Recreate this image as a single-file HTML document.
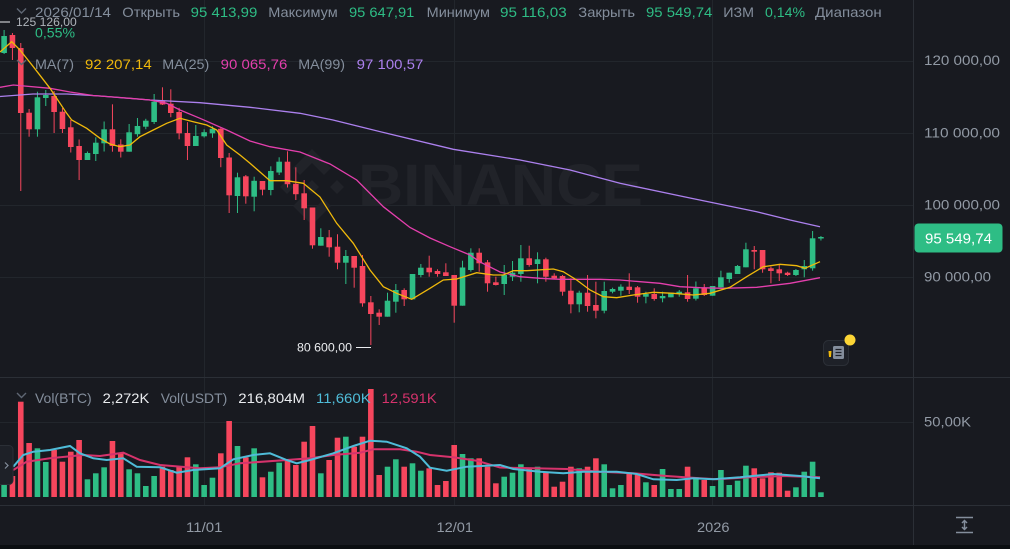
<!DOCTYPE html>
<html><head><meta charset="utf-8"><style>
html,body{margin:0;padding:0;background:#181a20;width:1010px;height:549px;overflow:hidden}
svg{display:block}
text{font-family:"Liberation Sans",sans-serif}
</style></head><body>
<svg id="s" width="1010" height="549" viewBox="0 0 1010 549" xmlns="http://www.w3.org/2000/svg">
<defs>
<clipPath id="cp"><rect x="0" y="0" width="913" height="377"/></clipPath>
<clipPath id="cv"><rect x="0" y="378" width="913" height="127"/></clipPath>
</defs>
<rect width="1010" height="549" fill="#181a20"/>
<rect y="545" width="1010" height="4" fill="#0b0e11"/>
<g stroke="#22262c" stroke-width="1">
<line x1="0" y1="61.5" x2="913" y2="61.5"/>
<line x1="0" y1="133.5" x2="913" y2="133.5"/>
<line x1="0" y1="205.5" x2="913" y2="205.5"/>
<line x1="0" y1="277.5" x2="913" y2="277.5"/>
<line x1="0" y1="422.5" x2="913" y2="422.5"/>
<line x1="204.5" y1="0" x2="204.5" y2="505"/>
<line x1="454.5" y1="0" x2="454.5" y2="505"/>
<line x1="712.5" y1="0" x2="712.5" y2="505"/>
</g>
<g stroke="#2b2f36" stroke-width="1">
<line x1="913.5" y1="0" x2="913.5" y2="545"/>
<line x1="0" y1="377.5" x2="1010" y2="377.5"/>
<line x1="0" y1="505.5" x2="1010" y2="505.5"/>
</g>
<!-- watermark -->
<g fill="#212329">
<polygon points="312,149 331,168 324,175 312,163 300,175 293,168"/>
<polygon points="312,225 331,206 324,199 312,211 300,199 293,206"/>
<polygon points="312,180 319,187 312,194 305,187"/>
<polygon points="287,180 294,187 287,194 280,187"/>
<polygon points="337,180 344,187 337,194 330,187"/>
<text x="358" y="205" font-size="58" font-weight="bold" textLength="285" lengthAdjust="spacingAndGlyphs">BINANCE</text>
</g>
<g clip-path="url(#cp)">
<g id="cd"></g>
<polyline fill="none" stroke="#ac80ee" stroke-width="1.3" points="0,96.5 33,94 67,94 100,96 150,100 200,102.7 250,107.3 300,113.3 333,120 386.7,133.3 453.3,149.3 520,160 570,170 620,183.3 690,198 756.7,211.7 790,220 820,226.7"/>
<polyline fill="none" stroke="#e43fad" stroke-width="1.3" points="0,87.3 13.3,85 50,88.3 70,92 93,95.5 120,97.5 150,100 166.7,103.3 180,110 200,118.3 226.7,130 250,141 270,146.7 300,152 330,164 356.7,180 383.3,206.7 410,227.5 430,238 450,246.7 470,255 480,262 500,272 520,276.7 540,278.3 560,279.3 600,279.3 620,280 640,281.7 660,283.3 680,286.7 700,287.7 723,288.3 756.7,287.3 790,283.3 820,277.7"/>
<polyline fill="none" stroke="#f0b90b" stroke-width="1.3" points="0,52 11.7,41.7 20,50 33.3,66.7 50,88.3 66.7,113.3 71.7,120 86.7,128.3 100,138.3 110,144 120,146.7 130,145 140,136.7 153.3,130 166.7,123.3 180,118.3 193.3,121.7 206.7,125 216.7,130 226.7,145 240,155 250,163.3 270,180.7 286.7,180.7 303.3,183.3 320,197 336.7,223.3 353.3,243.3 370,270 383.3,286.7 396.7,293.3 411.7,299.3 430,288.3 443.3,280 456.7,279 476.7,272.7 493.3,275 503.3,275 513.3,270.7 526.7,270.7 553.3,269 563.3,271.7 576.7,280 590,290 603.3,296.7 616.7,297.7 633.3,295 653.3,292.3 673.3,293.3 693.3,295 710,293.3 730,287.3 746.7,276.7 763.3,266.7 780,264.3 796.7,265.7 805,268.3 820,261.7"/>
</g>
<g clip-path="url(#cv)">
<g id="vb"></g>
<polyline fill="none" stroke="#d6336c" stroke-width="2" points="13.3,470 26.7,461.7 50,458.3 83.3,455 100,456 123.3,452.7 140,460 160,465 200,468.3 220,467.3 240,463.3 286.7,460 310,458.3 333.3,455 360,452.7 373.3,449.3 400,449.3 416.7,451.7 430,455 453.3,457.3 476.7,460.7 500,467.5 533.3,468.3 566.7,469 600,471.7 633.3,473.3 666.7,476 700,478.3 716.7,479.3 750,477.3 783.3,476 820,477.3"/>
<polyline fill="none" stroke="#4fbcd8" stroke-width="2" points="13.3,466.7 23.3,455 33.3,451.7 50,450 70,446 80,453.3 93.3,458.3 106.7,460 123.3,458.3 136.7,466.7 160,467.3 176.7,472.7 193.3,470 220,468.3 233.3,459.3 253.3,455 270,453.3 286.7,460 296.7,463.3 310,460 333.3,453.3 353.3,446 370,440.7 386.7,441.7 406.7,448.3 420,456.7 430,467.7 446.7,470.7 466.7,466.7 500,465 513.3,469 540,471.7 563.3,473.3 583.3,471.7 616.7,471.7 636.7,474 653.3,479.3 676.7,480 693.3,478.3 713.3,479.3 740,477.3 773.3,474 800,476 820,478.3"/>
</g>
<!-- max / min labels -->
<line x1="0" y1="22" x2="10" y2="22" stroke="#eaecef" stroke-width="1"/>
<text x="16" y="26" font-size="12" fill="#aeb3ba" textLength="60.7" lengthAdjust="spacingAndGlyphs">125 126,00</text>
<text x="297" y="351.5" font-size="12" fill="#eaecef" textLength="55" lengthAdjust="spacingAndGlyphs">80 600,00</text>
<line x1="356" y1="347.5" x2="371" y2="347.5" stroke="#eaecef" stroke-width="1"/>
<!-- header -->
<polyline points="17,8.5 21.5,13 26,8.5" fill="none" stroke="#5e6673" stroke-width="1.4"/>
<g font-size="14" fill="#848e9c">
<text x="35" y="17" textLength="76" lengthAdjust="spacingAndGlyphs">2026/01/14</text>
<text x="122.3" y="17" textLength="57.7" lengthAdjust="spacingAndGlyphs">Открыть</text>
<text x="190.7" y="17" textLength="66.6" lengthAdjust="spacingAndGlyphs" fill="#2ebd85">95 413,99</text>
<text x="268.3" y="17" textLength="69.4" lengthAdjust="spacingAndGlyphs">Максимум</text>
<text x="349" y="17" textLength="65.3" lengthAdjust="spacingAndGlyphs" fill="#2ebd85">95 647,91</text>
<text x="426.7" y="17" textLength="63.3" lengthAdjust="spacingAndGlyphs">Минимум</text>
<text x="500" y="17" textLength="66.7" lengthAdjust="spacingAndGlyphs" fill="#2ebd85">95 116,03</text>
<text x="578.3" y="17" textLength="56.7" lengthAdjust="spacingAndGlyphs">Закрыть</text>
<text x="646" y="17" textLength="66.3" lengthAdjust="spacingAndGlyphs" fill="#2ebd85">95 549,74</text>
<text x="723.3" y="17" textLength="30.7" lengthAdjust="spacingAndGlyphs">ИЗМ</text>
<text x="765" y="17" textLength="40" lengthAdjust="spacingAndGlyphs" fill="#2ebd85">0,14%</text>
<text x="815" y="17" textLength="66.7" lengthAdjust="spacingAndGlyphs">Диапазон</text>
<text x="35" y="37.5" textLength="40" lengthAdjust="spacingAndGlyphs" fill="#2ebd85">0,55%</text>
<text x="35" y="69" textLength="39" lengthAdjust="spacingAndGlyphs">MA(7)</text>
<text x="85" y="69" textLength="66.7" lengthAdjust="spacingAndGlyphs" fill="#f0b90b">92 207,14</text>
<text x="162.3" y="69" textLength="47" lengthAdjust="spacingAndGlyphs">MA(25)</text>
<text x="220.7" y="69" textLength="66.6" lengthAdjust="spacingAndGlyphs" fill="#e43fad">90 065,76</text>
<text x="298.3" y="69" textLength="46.7" lengthAdjust="spacingAndGlyphs">MA(99)</text>
<text x="356.7" y="69" textLength="66.6" lengthAdjust="spacingAndGlyphs" fill="#ac80ee">97 100,57</text>
<text x="35" y="403" textLength="56.7" lengthAdjust="spacingAndGlyphs">Vol(BTC)</text>
<text x="102.7" y="403" textLength="46.6" lengthAdjust="spacingAndGlyphs" fill="#eaecef">2,272K</text>
<text x="160.7" y="403" textLength="66.6" lengthAdjust="spacingAndGlyphs">Vol(USDT)</text>
<text x="238.3" y="403" textLength="66.7" lengthAdjust="spacingAndGlyphs" fill="#eaecef">216,804M</text>
<text x="316" y="403" textLength="54.7" lengthAdjust="spacingAndGlyphs" fill="#4fbcd8">11,660K</text>
<text x="381.7" y="403" textLength="55" lengthAdjust="spacingAndGlyphs" fill="#d6336c">12,591K</text>
</g>
<polyline points="17,60 21.5,64.5 26,60" fill="none" stroke="#5e6673" stroke-width="1.4"/>
<polyline points="17,393 21.5,397.5 26,393" fill="none" stroke="#5e6673" stroke-width="1.4"/>
<!-- right axis -->
<g font-size="14" fill="#929aa5">
<text x="924" y="65" textLength="76" lengthAdjust="spacingAndGlyphs">120 000,00</text>
<text x="924" y="137.5" textLength="76" lengthAdjust="spacingAndGlyphs">110 000,00</text>
<text x="924" y="209.5" textLength="76" lengthAdjust="spacingAndGlyphs">100 000,00</text>
<text x="924" y="281.7" textLength="67" lengthAdjust="spacingAndGlyphs">90 000,00</text>
<text x="924" y="426.5" textLength="47" lengthAdjust="spacingAndGlyphs">50,00K</text>
<text x="186" y="532" textLength="36.5" lengthAdjust="spacingAndGlyphs">11/01</text>
<text x="436.5" y="532" textLength="36.5" lengthAdjust="spacingAndGlyphs">12/01</text>
<text x="697" y="532" textLength="32.5" lengthAdjust="spacingAndGlyphs">2026</text>
</g>
<rect x="914.5" y="223.5" width="88" height="29" rx="4" fill="#2ebd85"/>
<text x="925" y="243.5" font-size="15" fill="#ffffff" textLength="67" lengthAdjust="spacingAndGlyphs">95 549,74</text>
<!-- bottom right icon -->
<g stroke="#848e9c" stroke-width="1.5" fill="none">
<line x1="956" y1="517.5" x2="973" y2="517.5"/>
<line x1="956" y1="532.5" x2="973" y2="532.5"/>
<line x1="964.5" y1="521" x2="964.5" y2="529"/>
<polyline points="962,523 964.5,520.5 967,523"/>
<polyline points="962,527 964.5,529.5 967,527"/>
</g>
<!-- doc icon -->
<rect x="823.5" y="340.5" width="25" height="25" rx="5" fill="#1e2128" stroke="#2b2f36"/>
<polygon points="828.5,351 831.5,351 831,357 829,357" fill="#f0b90b"/>
<rect x="833" y="346" width="11" height="13" rx="1.5" fill="#848e9c"/>
<g stroke="#1e2128" stroke-width="1.2"><line x1="835.5" y1="349.5" x2="841.5" y2="349.5"/><line x1="835.5" y1="352.5" x2="841.5" y2="352.5"/><line x1="835.5" y1="355.5" x2="841.5" y2="355.5"/></g>
<circle cx="850" cy="340" r="5.5" fill="#fcd535"/>
<!-- left tab -->
<rect x="-5" y="445.5" width="18" height="39" rx="4" fill="#1e2128" stroke="#2b2f36"/>
<polyline points="5,462.5 8,465.5 5,468.5" fill="none" stroke="#848e9c" stroke-width="1.2"/>
</svg>
<script>
var D="g,36,53,30,54;r,35,48,33,60;r,48,113,43,191;r,112.7,129.3,109,136.7;g,97.3,129.3,91.7,136.7;g,95,98,90,106;r,96,112,91,133;r,111.7,129,108,133;r,127.3,147,120,152.5;r,146,160,139.5,180;g,153,160,151.5,160;g,142.7,154,137.3,161;g,129.3,143.3,121.5,151.5;r,129.3,146,104.3,151.7;r,144.5,151.7,139.3,157.5;g,132.3,151.7,124,151.7;g,126,134.2,118,136.7;g,120.7,126.7,118.8,129.2;g,101.7,122,94,124;r,100.7,104.5,87.3,105;r,103.7,113,89.3,117.2;r,112,133.3,107.8,139.3;r,133,146,122.2,160;g,136,146,125,146;g,132.2,136.3,129.3,137.5;g,128.8,133.3,126.3,137.8;r,128.8,158,128,167.2;r,157.5,195.3,153,213;g,177.3,196,172.7,213;r,176.3,196.3,175,203.7;g,180.8,196.7,176.7,211.3;r,181,189.7,181,195.3;g,171,190,166.3,195.3;g,161.7,172.5,157.3,175;r,161.7,184.2,151.3,187.5;r,183.8,194.2,167.3,200;r,193.3,208.3,180,220;r,207.5,245.3,207.5,248.7;g,237,245.7,228.3,245.7;r,237.3,247.3,230,256.7;r,246.7,262.7,234.3,269.3;g,256,262.7,250,284;r,256,267.7,256,287.7;r,266,303.3,255,306.7;r,302.3,314,296,345;r,312.7,316.7,309.3,325;g,300.7,316.7,292.7,316.7;g,290,301.7,284,312.7;r,290,299.3,288.3,306;g,274,299.3,274,299.3;g,267.7,275,264,277.3;r,267.7,272.3,255.7,276.7;r,271,274,269.3,276.7;r,272.3,276,263.3,276;r,275,305.7,275,322.7;g,267.5,305.7,260.7,305.7;g,252.7,270,248.3,271.7;r,252.7,263.3,248.3,271.7;r,262.3,283.3,260,291.7;r,282.3,285,276.7,285.5;g,275,284,265,295;g,272.7,276.7,261,281;g,258.3,274,245,281.7;r,258.3,265,245.7,266.7;g,259.3,264,252.3,283.3;r,259.3,276.7,257.7,281.7;r,275.7,278.3,273.3,278.5;r,276,291.7,275,295.7;r,290.7,304.3,278.3,313.3;g,292.7,304.3,290.7,312.3;r,292.7,306,275,311.7;r,305,310.7,281.7,318.3;g,291,310.7,281.7,313.3;g,289,291.7,287.7,293.3;g,286.7,290.7,284.3,295.7;r,286.7,290,273.3,294;r,287.3,296.7,286,302.7;g,294,296.7,291.7,303.3;r,294,299,288.3,300.7;g,296,298.3,291.7,302.3;g,292.7,297.3,292.7,297.3;g,291.7,294,290,296.7;r,292.3,299,275,301.7;g,288.3,298.7,281.5,300.5;r,287.7,295,284,296;g,286,295.7,286,295.7;g,277.3,287.3,270.7,287.3;g,272.7,279,272.7,282.7;g,266,274,265,274;g,249.3,267.3,242.7,267.3;r,250,251.7,246,269.3;r,250,269.3,250,272.7;r,268.3,271,266.7,283.3;r,269.3,273.3,265,281;r,272.7,275,271.7,276;g,270,275,269,276;g,266,269.3,260,277.3;g,238.3,268.3,231,270.7;g,237,238.5,236,240.5".split(";");
var V=[485,476,401.7,443,448.3,462,450,461.7,451.7,440,479.3,473.3,467.3,441,453.3,469.3,473.3,486,476,466.7,470,466.7,457.3,464.3,485,477.7,453.3,421,446,457.3,448.3,477.3,471.7,462.7,459.3,465,441.7,426,473.3,460,437.7,436.7,446.7,436.7,389,475,466.7,459.3,466.7,463.3,470.7,468.3,485,481,445,454,458.3,458.3,466.7,483.3,476.7,472.7,464.3,468.3,466.7,471.7,486.7,481.7,466.7,468.3,466.7,458.3,464.3,488.3,485,472.7,474,482.3,485,469,489,489,466.7,477.3,480,486,470,485,480.7,465.7,468.3,478.3,472.3,472.7,490.7,487.3,471.7,461.7,492.3];
var h="",v="";
for(var i=0;i<D.length;i++){var a=D[i].split(","),x=4.1+8.335*i,c=a[0]=="g"?"#2ebd85":"#f6465d";
var t=+a[1],b=+a[2];if(b-t<1)b=t+1;
h+='<line x1="'+x+'" x2="'+x+'" y1="'+a[3]+'" y2="'+a[4]+'" stroke="'+c+'" stroke-width="1"/>';
h+='<rect x="'+(x-2.8)+'" y="'+t+'" width="5.6" height="'+(b-t)+'" fill="'+c+'"/>';
if(i<V.length)v+='<rect x="'+(x-2.8)+'" y="'+V[i]+'" width="5.6" height="'+(497-V[i])+'" fill="'+c+'"/>';}
document.getElementById("cd").innerHTML=h;document.getElementById("vb").innerHTML=v;
</script>
</body></html>
